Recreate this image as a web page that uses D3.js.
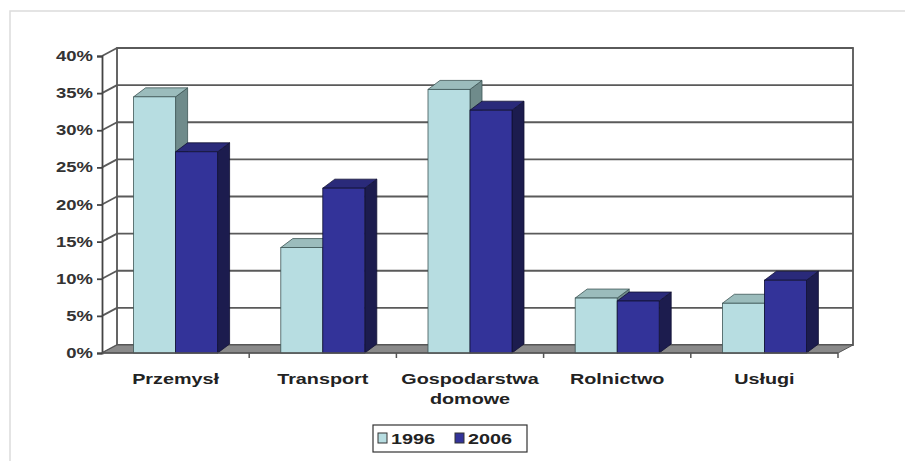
<!DOCTYPE html>
<html><head><meta charset="utf-8">
<script src="https://cdn.jsdelivr.net/npm/d3@7"></script>
<style>body{margin:0;background:#fff}svg{display:block}text{font-family:"Liberation Sans",Arial,sans-serif}</style>
</head><body>
<svg id="c" width="905" height="461"></svg>
<script>
const categories = ["Przemysł", "Transport", "Gospodarstwa domowe", "Rolnictwo", "Usługi"];
const series = ["1996", "2006"];
const values1996 = [0.345, 0.142, 0.355, 0.074, 0.067];
const values2006 = [0.271, 0.222, 0.327, 0.070, 0.098];
const yTicks = [0, 0.05, 0.10, 0.15, 0.20, 0.25, 0.30, 0.35, 0.40];

const svc = d3.select("#c");
const colors = {
  "1996": {front: "#b7dde1", top: "#9bbcbc", side: "#6f8b8b"},
  "2006": {front: "#333399", top: "#2a2a7a", side: "#1c1c4e"}
};
const wallDx = 15, wallDy = -8, barDx = 12, barDy = -9;
const x0 = 102, x1 = 838, yBase = 353, yTop = 56;
const y = d3.scaleLinear().domain([0, 0.4]).range([yBase, yTop]);
const x = d3.scaleBand().domain(categories).range([x0, x1]);
const groupW = 84;
const xs = d3.scaleBand().domain(series).range([0, groupW]);
const stretch = 1.32;

function sText(parent, px, py, str, size, anchor, fill) {
  return parent.append("text")
    .attr("transform", `translate(${px},${py}) scale(${stretch},1)`)
    .attr("text-anchor", anchor).attr("font-size", size).attr("font-weight", "bold")
    .attr("fill", fill).text(str);
}

// outer frame
svc.append("path").attr("d", "M10,461V11H905").attr("fill", "none").attr("stroke", "#dcdcdc").attr("stroke-width", 1.5);

// back wall
const g = svc.append("g");
g.append("rect").attr("x", x0 + wallDx).attr("y", y(0.4) + wallDy).attr("width", x1 - x0).attr("height", y(0) - y(0.4))
  .attr("fill", "#fff").attr("stroke", "#555").attr("stroke-width", 1.8);
yTicks.forEach(t => {
  g.append("line").attr("x1", x0 + wallDx).attr("x2", x1 + wallDx).attr("y1", y(t) + wallDy).attr("y2", y(t) + wallDy)
    .attr("stroke", "#5a5a5a").attr("stroke-width", 1.8);
  g.append("line").attr("x1", x0).attr("x2", x0 + wallDx).attr("y1", y(t)).attr("y2", y(t) + wallDy)
    .attr("stroke", "#5a5a5a").attr("stroke-width", 1.8);
});
// floor
g.append("path").attr("d", `M${x0},${yBase}L${x1},${yBase}L${x1 + wallDx},${yBase + wallDy}L${x0 + wallDx},${yBase + wallDy}Z`)
  .attr("fill", "#8a8a8a").attr("stroke", "#555").attr("stroke-width", 1);

// bars
const bars = [];
categories.forEach((c, i) => {
  bars.push({c, s: "1996", v: values1996[i]});
  bars.push({c, s: "2006", v: values2006[i]});
});
const bg = svc.append("g");
bars.forEach(b => {
  const bx = x(b.c) + (x.bandwidth() - groupW) / 2 + xs(b.s);
  const w = xs.bandwidth();
  const top = y(b.v), bot = y(0);
  const col = colors[b.s];
  const stroke = b.s === "1996" ? "#3e5656" : "#111133";
  bg.append("path").attr("d", `M${bx + w},${top}L${bx + w + barDx},${top + barDy}L${bx + w + barDx},${bot + barDy}L${bx + w},${bot}Z`)
    .attr("fill", col.side).attr("stroke", stroke).attr("stroke-width", 0.8);
  bg.append("path").attr("d", `M${bx},${top}L${bx + barDx},${top + barDy}L${bx + w + barDx},${top + barDy}L${bx + w},${top}Z`)
    .attr("fill", col.top).attr("stroke", stroke).attr("stroke-width", 0.8);
  bg.append("rect").attr("x", bx).attr("y", top).attr("width", w).attr("height", bot - top)
    .attr("fill", col.front).attr("stroke", stroke).attr("stroke-width", 0.8);
});

// y axis
const ya = svc.append("g").attr("transform", `translate(${x0},0)`)
  .call(d3.axisLeft(y).tickValues(yTicks).tickFormat("").tickSize(5));
ya.select(".domain").attr("stroke", "#444").attr("stroke-width", 1.8);
ya.selectAll(".tick line").attr("stroke", "#444").attr("stroke-width", 1.8);
const fmt = d3.format(".0%");
yTicks.forEach(t => {
  sText(svc, 93, y(t) + 5, fmt(t), 14, "end", "#333");
});

// x axis line & ticks
svc.append("line").attr("x1", x0).attr("x2", x1).attr("y1", yBase).attr("y2", yBase).attr("stroke", "#555").attr("stroke-width", 1.5);
categories.forEach(c => {
  const tx = x(c) + x.bandwidth();
  svc.append("line").attr("x1", tx).attr("x2", tx).attr("y1", yBase).attr("y2", yBase + 5).attr("stroke", "#555").attr("stroke-width", 1.5);
});
// x labels
categories.forEach(c => {
  const cx = x(c) + x.bandwidth() / 2;
  const words = c === "Gospodarstwa domowe" ? ["Gospodarstwa", "domowe"] : [c];
  words.forEach((wd, k) => {
    sText(svc, cx, 384 + k * 20, wd, 15, "middle", "#222");
  });
});

// legend
const lg = svc.append("g");
lg.append("rect").attr("x", 373).attr("y", 425).attr("width", 154).attr("height", 27)
  .attr("fill", "#fff").attr("stroke", "#333").attr("stroke-width", 1.2);
const legX = {"1996": 378, "2006": 455};
series.forEach(s => {
  lg.append("rect").attr("x", legX[s]).attr("y", 433).attr("width", 9).attr("height", 10)
    .attr("fill", colors[s].front).attr("stroke", "#333").attr("stroke-width", 1);
  sText(lg, legX[s] + 13, 444, s, 15, "start", "#222");
});
</script>
</body></html>
